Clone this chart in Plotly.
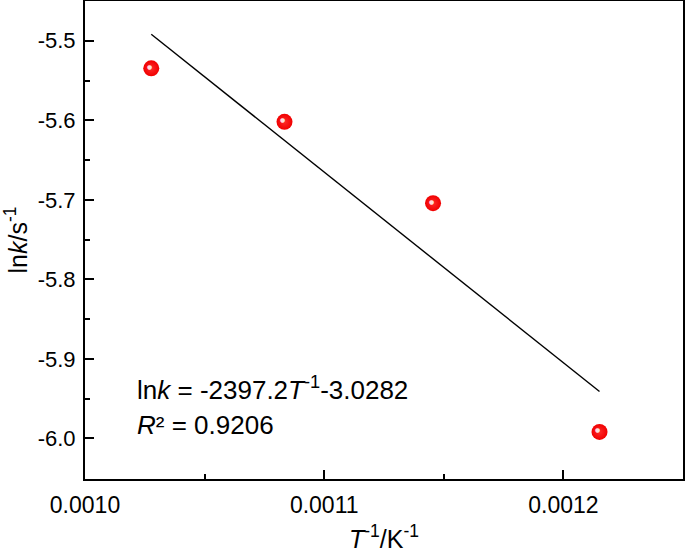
import plotly.graph_objects as go

# Data
inv_T = [0.0010277, 0.0010834, 0.0011455, 0.0012151]   # 1/T (K^-1)
ln_k = [-5.5347, -5.6019, -5.7042, -5.9918]             # ln k
fit_slope = -2397.2
fit_intercept = -3.0282
r_squared = 0.9206

x_ticks = [0.0010, 0.0011, 0.0012]
x_ticklabels = ["0.0010", "0.0011", "0.0012"]
y_ticks = [-5.5, -5.6, -5.7, -5.8, -5.9, -6.0]
y_ticklabels = ["-5.5", "-5.6", "-5.7", "-5.8", "-5.9", "-6.0"]

fit_x = [min(inv_T), max(inv_T)]
fit_y = [fit_slope * v + fit_intercept for v in fit_x]

FONT = "Liberation Sans, Arial, sans-serif"

fig = go.Figure()
fig.add_trace(go.Scatter(
    x=fit_x, y=fit_y, mode="lines",
    line=dict(color="black", width=1.4),
    showlegend=False, hoverinfo="skip"))
# red sphere body
fig.add_trace(go.Scatter(
    x=inv_T, y=ln_k, mode="markers",
    marker=dict(size=16, color="#f00000",
                gradient=dict(type="radial", color="#ff2a2a"),
                line=dict(width=0)),
    showlegend=False))
# specular highlight on each sphere
for xv, yv in zip(inv_T, ln_k):
    fig.add_annotation(
        x=xv, y=yv, xref="x", yref="y", text="●", showarrow=False,
        xshift=-2, yshift=2,
        font=dict(family="DejaVu Sans", size=6, color="rgba(255,235,235,0.95)"))

fig.add_annotation(
    xref="paper", yref="paper", x=0.083, y=0.190,
    xanchor="left", yanchor="middle", align="left", showarrow=False,
    text=f"ln<i>k</i> = {fit_slope}<i>T</i><sup>-1</sup>{fit_intercept}",
    font=dict(family=FONT, size=26, color="black"))
fig.add_annotation(
    xref="paper", yref="paper", x=0.083, y=0.112,
    xanchor="left", yanchor="middle", align="left", showarrow=False,
    text=f"<i>R</i>² = {r_squared}",
    font=dict(family=FONT, size=26, color="black"))

axis_common = dict(
    showline=True, linecolor="black", linewidth=2, mirror=True,
    ticks="inside", ticklen=9, tickwidth=1.5, tickcolor="black",
    showgrid=False, zeroline=False, automargin=False,
)

fig.update_xaxes(
    range=[0.0010, 0.00125], tickvals=x_ticks, ticktext=x_ticklabels,
    tickfont=dict(family=FONT, size=23, color="black"),
    minor=dict(ticks="inside", ticklen=5, tickwidth=1.5, tickcolor="black", dtick=0.00005, tick0=0.0010),
    title=dict(text="<i>T</i><sup>-1</sup>/K<sup>-1</sup>", font=dict(family=FONT, size=25, color="black"), standoff=16),
    ticklabelstandoff=4,
    **axis_common)
fig.update_yaxes(
    range=[-6.051, -5.45], tickvals=y_ticks, ticktext=y_ticklabels,
    tickfont=dict(family=FONT, size=22, color="black"),
    minor=dict(ticks="inside", ticklen=5, tickwidth=1.5, tickcolor="black", dtick=0.05, tick0=-6.0),
    title=dict(text="ln<i>k</i>/s<sup>-1</sup>", font=dict(family=FONT, size=25, color="black"), standoff=4),
    ticklabelstandoff=3,
    **axis_common)

fig.update_layout(
    width=685, height=553,
    margin=dict(l=85, r=2, t=1, b=74),
    plot_bgcolor="white", paper_bgcolor="white",
)

fig.write_html("out.html", config={"displayModeBar": False},
               post_script="document.body.style.margin='0';document.body.style.padding='0';")
